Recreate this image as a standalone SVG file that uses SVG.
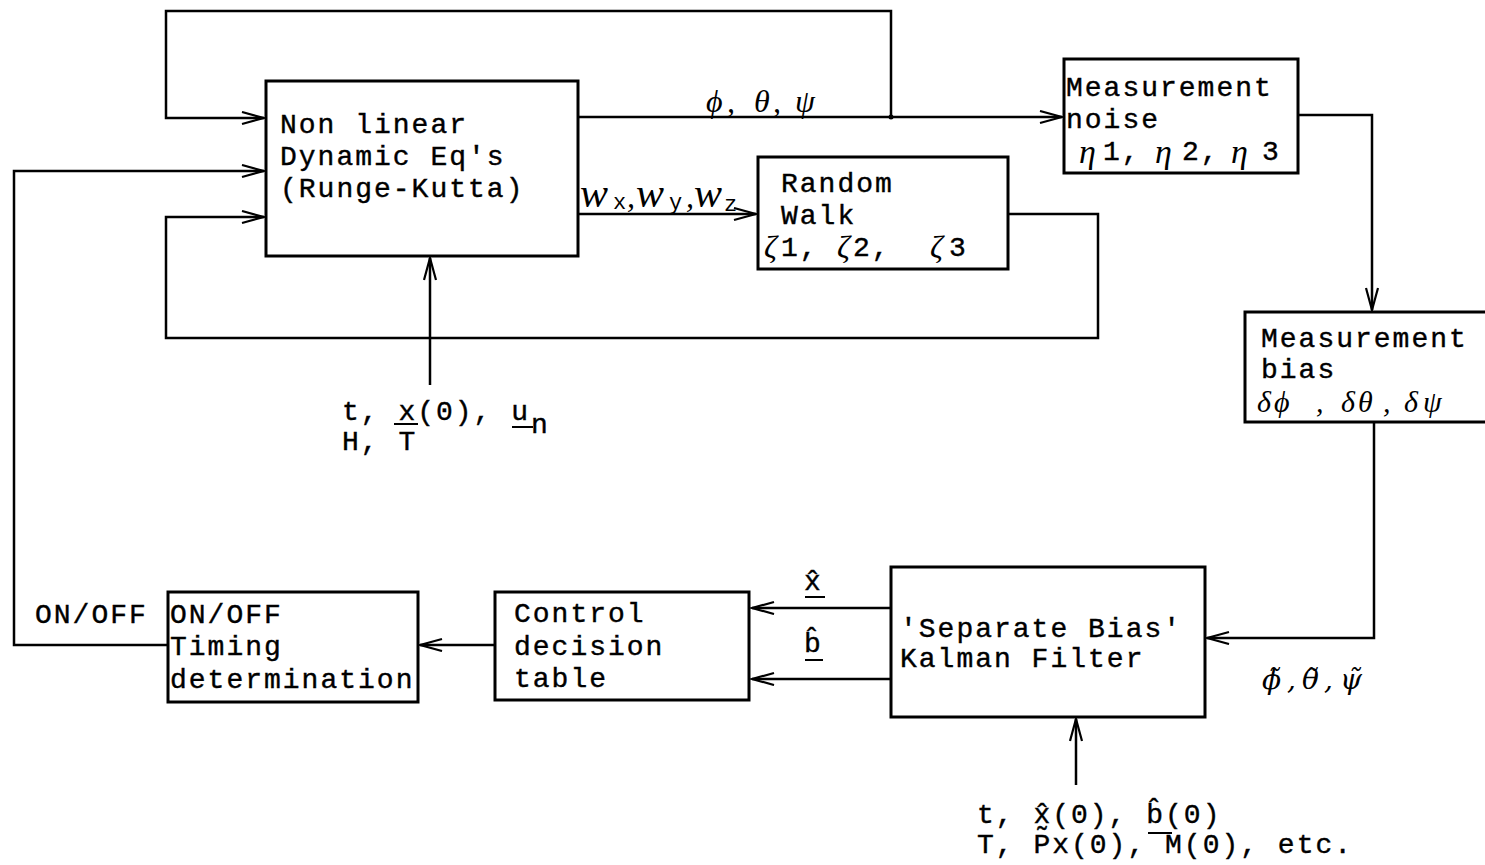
<svg xmlns="http://www.w3.org/2000/svg" width="1485" height="865" viewBox="0 0 1485 865">
<style>
.ln{stroke:#000;stroke-width:2.5;fill:none}
.box{fill:#fff;stroke:#000;stroke-width:3}
.t{font-family:"Liberation Mono","DejaVu Sans Mono",monospace;font-size:28px;letter-spacing:2px;fill:#000;stroke:#000;stroke-width:0.4}
.s{font-family:"Liberation Mono","DejaVu Sans Mono",monospace;font-size:22px;fill:#000}
.g{font-family:"Liberation Serif","DejaVu Serif",serif;font-style:italic;font-size:32px;fill:#000}
.d{font-family:"DejaVu Serif","Liberation Serif",serif;font-style:italic;font-size:28px;fill:#000}
.u{stroke:#000;stroke-width:2;fill:none}
</style>
<defs>
<marker id="ah" markerUnits="userSpaceOnUse" markerWidth="26" markerHeight="16" refX="23" refY="7" orient="auto">
<path d="M1,1 L23,7 L1,13" fill="none" stroke="#000" stroke-width="2.2"/>
</marker>
</defs>
<rect width="1485" height="865" fill="#fff"/>

<g id="connectors">
<path class="ln" d="M891,117 V11 H166 V118 H264" marker-end="url(#ah)"/>
<path class="ln" d="M578,117 H1062" marker-end="url(#ah)"/>
<circle cx="891" cy="117" r="2.5" fill="#000"/>
<path class="ln" d="M1298,115 H1372 V310" marker-end="url(#ah)"/>
<path class="ln" d="M1374,422 V638 H1207" marker-end="url(#ah)"/>
<path class="ln" d="M891,608 H752" marker-end="url(#ah)"/>
<path class="ln" d="M891,679 H752" marker-end="url(#ah)"/>
<path class="ln" d="M495,645 H420" marker-end="url(#ah)"/>
<path class="ln" d="M168,645 H14 V171 H264" marker-end="url(#ah)"/>
<path class="ln" d="M578,214 H756" marker-end="url(#ah)"/>
<path class="ln" d="M1008,214 H1098 V338 H166 V217 H264" marker-end="url(#ah)"/>
<path class="ln" d="M430,385 V258" marker-end="url(#ah)"/>
<path class="ln" d="M1076,785 V719" marker-end="url(#ah)"/>
</g>

<g id="dynamics">
<rect class="box" x="266" y="81" width="312" height="175"/>
<text class="t" x="280" y="133">Non linear</text>
<text class="t" x="280" y="165">Dynamic Eq's</text>
<text class="t" x="280" y="197">(Runge-Kutta)</text>
</g>

<g id="random-walk">
<rect class="box" x="758" y="157" width="250" height="112"/>
<text class="t" x="781" y="192">Random</text>
<text class="t" x="781" y="224">Walk</text>
<text class="g" x="764" y="258" style="font-size:32px">ζ</text>
<text class="t" x="781" y="256">1,</text>
<text class="g" x="837" y="258" style="font-size:32px">ζ</text>
<text class="t" x="853" y="256">2,</text>
<text class="g" x="930" y="258" style="font-size:32px">ζ</text>
<text class="t" x="949" y="256">3</text>
</g>

<g id="measurement-noise">
<rect class="box" x="1064" y="59" width="234" height="114"/>
<text class="t" x="1066" y="96">Measurement</text>
<text class="t" x="1066" y="128">noise</text>
<text class="g" x="1079" y="163" style="font-size:34px">η</text>
<text class="t" x="1103" y="160">1,</text>
<text class="g" x="1155" y="163" style="font-size:34px">η</text>
<text class="t" x="1182" y="160">2,</text>
<text class="g" x="1231" y="163" style="font-size:34px">η</text>
<text class="t" x="1262" y="160">3</text>
</g>

<g id="measurement-bias">
<rect class="box" x="1245" y="312" width="260" height="110"/>
<text class="t" x="1261" y="347">Measurement</text>
<text class="t" x="1261" y="378">bias</text>
<text class="g" x="1257 1274 1316 1341 1358 1383 1404 1423" y="412" style="font-size:30px">δϕ,δθ,δψ</text>
</g>

<g id="kalman-filter">
<rect class="box" x="891" y="567" width="314" height="150"/>
<text class="t" x="900" y="637">'Separate Bias'</text>
<text class="t" x="900" y="667">Kalman Filter</text>
</g>

<g id="control-table">
<rect class="box" x="495" y="592" width="254" height="108"/>
<text class="t" x="514" y="622">Control</text>
<text class="t" x="514" y="655">decision</text>
<text class="t" x="514" y="687">table</text>
</g>

<g id="onoff-timing">
<rect class="box" x="168" y="592" width="250" height="110"/>
<text class="t" x="170" y="623">ON/OFF</text>
<text class="t" x="170" y="655">Timing</text>
<text class="t" x="170" y="688">determination</text>
</g>

<g id="labels">
<text class="g" x="706 727 754 773 795" y="112">ϕ,θ,ψ</text>
<text class="g" x="580" y="207" style="font-size:42px">w</text>
<text class="s" x="613" y="209">x</text>
<text class="g" x="627" y="207">,</text>
<text class="g" x="636" y="207" style="font-size:42px">w</text>
<text class="s" x="669" y="209">y</text>
<text class="g" x="686" y="207">,</text>
<text class="g" x="694" y="207" style="font-size:42px">w</text>
<text class="s" x="724" y="211">z</text>

<text class="t" x="342" y="420">t, x(0), u</text>
<text class="t" x="531" y="433">n</text>
<line class="u" x1="394" y1="424" x2="418" y2="424"/>
<line class="u" x1="512" y1="427" x2="533" y2="427"/>
<text class="t" x="342" y="450">H, T</text>

<text class="t" x="35" y="623">ON/OFF</text>

<text class="t" x="804" y="590">x̂</text>
<line class="u" x1="805" y1="597" x2="825" y2="597"/>
<text class="t" x="804" y="652">b̂</text>
<line class="u" x1="805" y1="660" x2="823" y2="660"/>

<text class="d" x="1262" y="689">ϕ̃</text>
<text class="d" x="1287" y="689">,</text>
<text class="d" x="1302" y="689">θ̃</text>
<text class="d" x="1324" y="689">,</text>
<text class="d" x="1340" y="689">ψ̃</text>

<text class="t" x="977" y="823">t, x̰̂(0), b̂(0)</text>
<line class="u" x1="1148" y1="833" x2="1172" y2="833"/>
<text class="t" x="977" y="853">T, Px(0), M(0), etc.</text>
</g>
</svg>
